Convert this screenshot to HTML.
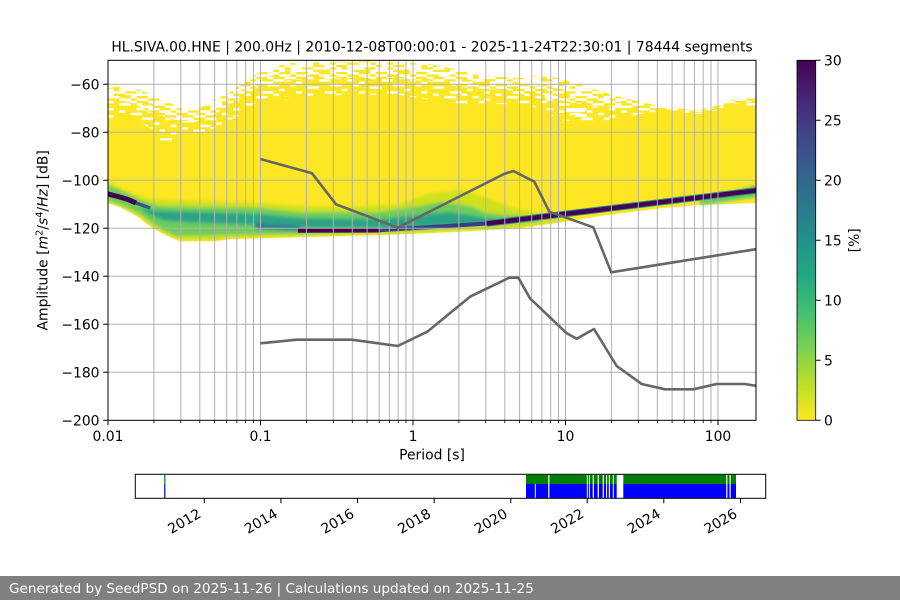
<!DOCTYPE html>
<html>
<head>
<meta charset="utf-8">
<style>
html,body{margin:0;padding:0;background:#fff;}
svg{display:block;}
text{font-family:"DejaVu Sans","Liberation Sans",sans-serif;fill:#000;}
</style>
</head>
<body>
<svg width="900" height="600" viewBox="0 0 900 600" xmlns="http://www.w3.org/2000/svg">
<defs>
  <clipPath id="plot"><rect x="108" y="60.3" width="648" height="360"/></clipPath>
  <linearGradient id="vir" x1="0" y1="1" x2="0" y2="0">
    <stop offset="0" stop-color="#fde725"/>
    <stop offset="0.1" stop-color="#bddf26"/>
    <stop offset="0.2" stop-color="#7ad151"/>
    <stop offset="0.3" stop-color="#44bf70"/>
    <stop offset="0.4" stop-color="#22a884"/>
    <stop offset="0.5" stop-color="#21918c"/>
    <stop offset="0.6" stop-color="#2a788e"/>
    <stop offset="0.7" stop-color="#355f8d"/>
    <stop offset="0.8" stop-color="#414487"/>
    <stop offset="0.9" stop-color="#482475"/>
    <stop offset="1" stop-color="#440154"/>
  </linearGradient>
  <pattern id="dense" patternUnits="userSpaceOnUse" x="108" y="60" width="39.9" height="12">
    <rect x="0" y="0" width="11.4" height="2.4" fill="#fff"/>
    <rect x="22.8" y="0" width="5.7" height="2.4" fill="#fff"/>
    <rect x="11.4" y="2.4" width="11.4" height="2.4" fill="#fff"/>
    <rect x="28.5" y="2.4" width="11.4" height="2.4" fill="#fff"/>
    <rect x="0" y="4.8" width="5.7" height="2.4" fill="#fff"/>
    <rect x="17.1" y="4.8" width="11.4" height="2.4" fill="#fff"/>
    <rect x="5.7" y="7.2" width="11.4" height="2.4" fill="#fff"/>
    <rect x="28.5" y="7.2" width="5.7" height="2.4" fill="#fff"/>
    <rect x="0" y="9.6" width="5.7" height="2.4" fill="#fff"/>
    <rect x="22.8" y="9.6" width="17.1" height="2.4" fill="#fff"/>
  </pattern>
  <pattern id="dense2" patternUnits="userSpaceOnUse" x="108" y="60" width="28.5" height="7.2">
    <rect x="11.4" y="0" width="11.4" height="2.4" fill="#fff"/>
    <rect x="0" y="2.4" width="5.7" height="2.4" fill="#fff"/>
    <rect x="17.1" y="4.8" width="11.4" height="2.4" fill="#fff"/>
  </pattern>
  <pattern id="sparse" patternUnits="userSpaceOnUse" x="108" y="60" width="62.7" height="16.8">
    <rect x="11.4" y="0" width="5.7" height="2.4" fill="#fff"/>
    <rect x="39.9" y="0" width="5.7" height="2.4" fill="#fff"/>
    <rect x="22.8" y="2.4" width="11.4" height="2.4" fill="#fff"/>
    <rect x="51.3" y="2.4" width="5.7" height="2.4" fill="#fff"/>
    <rect x="0" y="4.8" width="5.7" height="2.4" fill="#fff"/>
    <rect x="34.2" y="7.2" width="11.4" height="2.4" fill="#fff"/>
    <rect x="57" y="7.2" width="5.7" height="2.4" fill="#fff"/>
    <rect x="11.4" y="9.6" width="11.4" height="2.4" fill="#fff"/>
    <rect x="45.6" y="12" width="5.7" height="2.4" fill="#fff"/>
    <rect x="0" y="14.4" width="5.7" height="2.4" fill="#fff"/>
    <rect x="28.5" y="14.4" width="11.4" height="2.4" fill="#fff"/>
  </pattern>
  <filter id="bl" x="-5%" y="-30%" width="110%" height="160%"><feGaussianBlur stdDeviation="1.6"/></filter>
</defs>

<!-- Title -->
<text x="432" y="51.5" font-size="13.9" text-anchor="middle">HL.SIVA.00.HNE | 200.0Hz | 2010-12-08T00:00:01 - 2025-11-24T22:30:01 | 78444 segments</text>

<!-- Heatmap -->
<g clip-path="url(#plot)">
  <polygon fill="#fde725" points="108,88 125,86 140,90 155,96 170,103 185,110 200,108 215,100 230,92 245,82 260,72 275,66 290,63 320,62 380,61 430,64 460,70 490,76 520,78 545,75 565,80 590,88 620,97 650,104 690,110 715,106 730,100 756,98 756,203 700,205 663,208 600,216 563,222 520,228 470,231 430,233 380,235 300,237 230,239 215,241 180,241 170,237 160,232 150,226 140,218 130,212 120,207 108,203"/>
  <polygon fill="url(#dense)" points="108,88 125,86 140,90 155,96 170,103 185,110 200,108 215,100 230,92 245,82 260,72 275,66 290,63 320,62 380,61 430,64 460,70 490,76 520,78 545,75 565,80 590,88 620,97 650,104 690,110 715,106 730,100 756,98 756,102 730,104 700,112 650,108 620,108 590,106 560,100 530,91 500,90 470,88 430,82 400,78 350,78 290,80 260,86 240,98 215,114 195,122 175,120 150,112 130,102 108,104"/>
  <polygon fill="url(#dense2)" points="108,88 125,86 140,90 155,96 170,103 185,110 200,108 215,100 230,92 245,82 260,72 275,66 290,63 320,62 380,61 430,64 460,70 490,76 520,78 545,75 565,80 590,88 620,97 650,104 690,110 715,106 730,100 756,98 756,100 730,102 700,110 650,106 620,102 590,97 560,89 530,84 500,83 470,80 430,73 400,69 350,70 290,71 260,79 240,91 215,107 195,115 175,112 150,103 130,95 108,96"/>
  <polygon fill="url(#sparse)" points="108,104 130,102 150,112 175,120 195,122 215,114 240,98 260,86 290,80 350,78 400,78 430,82 470,88 500,90 530,91 560,100 590,106 620,108 650,108 700,112 730,104 756,102 756,106 730,108 700,114 650,112 620,118 590,123 560,120 530,105 500,104 470,105 430,100 400,95 350,95 290,96 260,100 240,115 215,128 195,136 175,136 150,128 130,118 108,120"/>
  <rect x="565" y="108" width="20" height="4" fill="#fff"/>
  <rect x="575" y="114" width="12" height="3" fill="#fff"/>
  <rect x="545" y="96" width="10" height="3" fill="#fff"/>
  <rect x="160" y="138" width="12" height="2.4" fill="#fff"/>

  <g filter="url(#bl)">
    <polygon fill="#cfe11f" points="108,182 120,188 135,195 150,199 200,201 260,203 300,206 350,207 400,204 430,193 460,190 487,198 510,207 540,213 563,217 563,221 520,227 470,230 430,232 380,234 300,236 230,238 215,240 180,240 170,236 160,231 150,225 140,217 130,211 120,206 108,202"/>
    <polygon fill="#6ccd5a" points="108,185 125,192 140,200 160,206 200,207 260,208 300,212 380,212 420,206 440,202 470,206 487,213 520,216 540,218 540,222 487,225 430,230 380,232 300,234 230,235 200,236 175,236 165,231 152,223 140,214 128,208 115,203 108,201"/>
    <polygon fill="#2ca485" points="140,208 160,211 200,212 260,214 300,218 380,219 420,215 450,212 480,217 495,219 495,222 480,224 430,227 380,228 300,228 260,225 200,223 165,221 150,215"/>
    <polygon fill="#2d7d8d" points="255,223 300,226 300,231 255,229"/>
  </g>
  <g filter="url(#bl)">
    <polygon fill="#5ec962" points="700,200 730,193 756,185 756,197 730,201 700,205"/>
  </g>
  <polyline points="487,223.5 756,190.5" fill="none" stroke="#2a8f8c" stroke-width="6.5"/>
  <polyline points="487,223.5 756,190.5" fill="none" stroke="#440154" stroke-width="4.5"/>
  <polyline points="380,230.2 487,223.5" fill="none" stroke="#3a3d84" stroke-width="4"/>
  <polyline points="298,230.5 380,230.2" fill="none" stroke="#440154" stroke-width="4.5"/>
  <polyline points="136,203 150,208" fill="none" stroke="#3b528b" stroke-width="3.5"/>
  <polyline points="104,193 118,196.5 128,199.5 136,203" fill="none" stroke="#440154" stroke-width="5"/>
</g>

<!-- Grid -->
<g stroke="#b0b0b0" stroke-width="1" fill="none">
  <path d="M153.9 60.3V420.3M180.8 60.3V420.3M199.8 60.3V420.3M214.6 60.3V420.3M226.7 60.3V420.3M236.9 60.3V420.3M245.7 60.3V420.3M253.5 60.3V420.3
  M260.5 60.3V420.3M306.4 60.3V420.3M333.3 60.3V420.3M352.3 60.3V420.3M367.1 60.3V420.3M379.2 60.3V420.3M389.4 60.3V420.3M398.2 60.3V420.3M406 60.3V420.3
  M413 60.3V420.3M458.9 60.3V420.3M485.8 60.3V420.3M504.8 60.3V420.3M519.6 60.3V420.3M531.7 60.3V420.3M541.9 60.3V420.3M550.7 60.3V420.3M558.5 60.3V420.3
  M565.5 60.3V420.3M611.4 60.3V420.3M638.3 60.3V420.3M657.3 60.3V420.3M672.1 60.3V420.3M684.2 60.3V420.3M694.4 60.3V420.3M703.2 60.3V420.3M711 60.3V420.3
  M718 60.3V420.3"/>
  <path d="M108 84.3H756M108 132.3H756M108 180.3H756M108 228.3H756M108 276.3H756M108 324.3H756M108 372.3H756"/>
</g>

<!-- Noise model lines -->
<g fill="none" stroke="#666666" stroke-width="2.6" stroke-linejoin="round" stroke-linecap="butt" clip-path="url(#plot)">
  <polyline points="260.3,159 312,173.3 336,204.3 397.7,227.7 504,174 513.3,171 534.3,181.7 549.3,211.7 593.3,227.3 611.2,272.3 757,249"/>
  <polyline points="260.3,343.3 296.7,339.7 351.7,339.7 397.7,346 427.3,331.7 470,296.7 509.3,277.7 518.3,277.7 530,298.3 566,332.7 576.7,338.7 594,329 616.7,366 641.7,384 665,389.3 693.3,389.3 716.7,384 745,384 757,386"/>
</g>

<!-- Axes frame -->
<rect x="108" y="60.3" width="648" height="360" fill="none" stroke="#000" stroke-width="1"/>

<!-- Ticks -->
<g stroke="#000" stroke-width="1">
  <path d="M103.1 84.3H108M103.1 132.3H108M103.1 180.3H108M103.1 228.3H108M103.1 276.3H108M103.1 324.3H108M103.1 372.3H108M103.1 420.3H108"/>
  <path d="M108 420.3V425.2M260.5 420.3V425.2M413 420.3V425.2M565.5 420.3V425.2M718 420.3V425.2"/>
  <path stroke-width="0.8" d="M153.9 420.3v2.8M180.8 420.3v2.8M199.8 420.3v2.8M214.6 420.3v2.8M226.7 420.3v2.8M236.9 420.3v2.8M245.7 420.3v2.8M253.5 420.3v2.8
  M306.4 420.3v2.8M333.3 420.3v2.8M352.3 420.3v2.8M367.1 420.3v2.8M379.2 420.3v2.8M389.4 420.3v2.8M398.2 420.3v2.8M406 420.3v2.8
  M458.9 420.3v2.8M485.8 420.3v2.8M504.8 420.3v2.8M519.6 420.3v2.8M531.7 420.3v2.8M541.9 420.3v2.8M550.7 420.3v2.8M558.5 420.3v2.8
  M611.4 420.3v2.8M638.3 420.3v2.8M657.3 420.3v2.8M672.1 420.3v2.8M684.2 420.3v2.8M694.4 420.3v2.8M703.2 420.3v2.8M711 420.3v2.8"/>
</g>
<g font-size="13.9" text-anchor="end">
  <text x="99.5" y="89.3">−60</text>
  <text x="99.5" y="137.3">−80</text>
  <text x="99.5" y="185.3">−100</text>
  <text x="99.5" y="233.3">−120</text>
  <text x="99.5" y="281.3">−140</text>
  <text x="99.5" y="329.3">−160</text>
  <text x="99.5" y="377.3">−180</text>
  <text x="99.5" y="425.3">−200</text>
</g>
<g font-size="13.9" text-anchor="middle">
  <text x="108" y="441">0.01</text>
  <text x="260.5" y="441">0.1</text>
  <text x="413" y="441">1</text>
  <text x="565.5" y="441">10</text>
  <text x="718" y="441">100</text>
  <text x="432" y="459.5">Period [s]</text>
</g>
<text font-size="13.9" text-anchor="middle" transform="translate(47.5,240.3) rotate(-90)">Amplitude [<tspan font-style="italic">m</tspan><tspan dy="-5" font-size="9.7">2</tspan><tspan dy="5">/</tspan><tspan font-style="italic">s</tspan><tspan dy="-5" font-size="9.7">4</tspan><tspan dy="5">/</tspan><tspan font-style="italic">Hz</tspan>] [dB]</text>

<!-- Colorbar -->
<rect x="797" y="60.3" width="18.7" height="360" fill="url(#vir)"/>
<rect x="797" y="60.3" width="18.7" height="360" fill="none" stroke="#000" stroke-width="0.8"/>
<g stroke="#000" stroke-width="1">
  <path d="M815.7 60.3h4.9M815.7 120.3h4.9M815.7 180.3h4.9M815.7 240.3h4.9M815.7 300.3h4.9M815.7 360.3h4.9M815.7 420.3h4.9"/>
</g>
<g font-size="13.9">
  <text x="824" y="65.3">30</text>
  <text x="824" y="125.3">25</text>
  <text x="824" y="185.3">20</text>
  <text x="824" y="245.3">15</text>
  <text x="824" y="305.3">10</text>
  <text x="824" y="365.3">5</text>
  <text x="824" y="425.3">0</text>
</g>
<text font-size="13.9" text-anchor="middle" transform="translate(859,240.3) rotate(-90)">[%]</text>

<!-- Timeline -->
<g>
  <rect x="164.2" y="474.8" width="1.2" height="9.2" fill="#008000"/>
  <rect x="164.2" y="484" width="1.2" height="14" fill="#0000ff"/>
  <rect x="526" y="474.8" width="210" height="9.2" fill="#008000"/>
  <rect x="526" y="484" width="210" height="14" fill="#0000ff"/>
  <rect x="534.8" y="484" width="1" height="14" fill="#fff"/>
  <g fill="#fff">
    <rect x="548.2" y="474.8" width="1.2" height="23.2"/>
    <rect x="586.8" y="474.8" width="1" height="23.2"/>
    <rect x="588.9" y="474.8" width="1" height="23.2"/>
    <rect x="592.7" y="474.8" width="1.2" height="23.2"/>
    <rect x="597.7" y="474.8" width="1.2" height="23.2"/>
    <rect x="602.7" y="474.8" width="1.2" height="23.2"/>
    <rect x="606.1" y="474.8" width="1" height="23.2"/>
    <rect x="608.8" y="474.8" width="1.2" height="23.2"/>
    <rect x="612.8" y="474.8" width="1" height="23.2"/>
    <rect x="616.7" y="474.8" width="6.6" height="23.2"/>
    <rect x="726.2" y="474.8" width="1.2" height="23.2"/>
    <rect x="729.5" y="474.8" width="1.2" height="23.2"/>
  </g>
  <rect x="135.3" y="474.3" width="630.4" height="24" fill="none" stroke="#000" stroke-width="1"/>
  <path stroke="#000" stroke-width="1" d="M204.3 498.3v4.9M280.9 498.3v4.9M357.5 498.3v4.9M434.2 498.3v4.9M510.8 498.3v4.9M587.2 498.3v4.9M663.8 498.3v4.9M740.5 498.3v4.9"/>
  <g font-size="13.9" text-anchor="end">
    <text transform="translate(202,516.5) rotate(-30)">2012</text>
    <text transform="translate(278.6,516.5) rotate(-30)">2014</text>
    <text transform="translate(355.2,516.5) rotate(-30)">2016</text>
    <text transform="translate(431.9,516.5) rotate(-30)">2018</text>
    <text transform="translate(508.5,516.5) rotate(-30)">2020</text>
    <text transform="translate(584.9,516.5) rotate(-30)">2022</text>
    <text transform="translate(661.5,516.5) rotate(-30)">2024</text>
    <text transform="translate(738.2,516.5) rotate(-30)">2026</text>
  </g>
</g>

<!-- Footer -->
<rect x="0" y="576" width="900" height="24" fill="#808080"/>
<text x="9" y="593" font-size="13.6" style="fill:#ffffff">Generated by SeedPSD on 2025-11-26 | Calculations updated on 2025-11-25</text>
</svg>
</body>
</html>
